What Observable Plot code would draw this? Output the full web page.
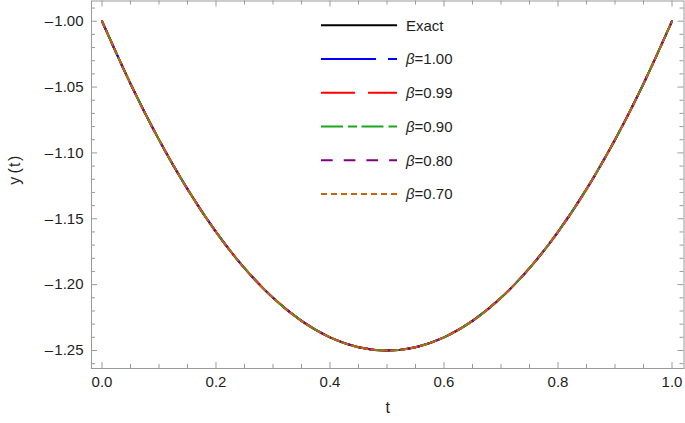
<!DOCTYPE html>
<html><head><meta charset="utf-8">
<script src="https://cdn.jsdelivr.net/npm/d3@7"></script>
<script src="https://cdn.jsdelivr.net/npm/@observablehq/plot@0.6"></script>
<style>
body{margin:0;background:#fff;font-family:"Liberation Sans",Arial,sans-serif}
#wrap{position:relative;width:685px;height:423px}
#legend{position:absolute;left:0;top:0;pointer-events:none}
</style>
</head><body><div id="wrap"></div>
<script>
// values
const tValues = [0, 0.05, 0.1, 0.15, 0.2, 0.25, 0.3, 0.35, 0.4, 0.45, 0.5, 0.55, 0.6, 0.65, 0.7, 0.75, 0.8, 0.85, 0.9, 0.95, 1.0];
const yExact = [-1.0000, -1.0475, -1.0900, -1.1275, -1.1600, -1.1875, -1.2100, -1.2275, -1.2400, -1.2475, -1.2500, -1.2475, -1.2400, -1.2275, -1.2100, -1.1875, -1.1600, -1.1275, -1.0900, -1.0475, -1.0000];
const yBeta100 = [-1.0000, -1.0475, -1.0900, -1.1275, -1.1600, -1.1875, -1.2100, -1.2275, -1.2400, -1.2475, -1.2500, -1.2475, -1.2400, -1.2275, -1.2100, -1.1875, -1.1600, -1.1275, -1.0900, -1.0475, -1.0000];
const yBeta099 = [-1.0000, -1.0475, -1.0900, -1.1275, -1.1600, -1.1875, -1.2100, -1.2275, -1.2400, -1.2475, -1.2500, -1.2475, -1.2400, -1.2275, -1.2100, -1.1875, -1.1600, -1.1275, -1.0900, -1.0475, -1.0000];
const yBeta090 = [-1.0000, -1.0475, -1.0900, -1.1275, -1.1600, -1.1875, -1.2100, -1.2275, -1.2400, -1.2475, -1.2500, -1.2475, -1.2400, -1.2275, -1.2100, -1.1875, -1.1600, -1.1275, -1.0900, -1.0475, -1.0000];
const yBeta080 = [-1.0000, -1.0475, -1.0900, -1.1275, -1.1600, -1.1875, -1.2100, -1.2275, -1.2400, -1.2475, -1.2500, -1.2475, -1.2400, -1.2275, -1.2100, -1.1875, -1.1600, -1.1275, -1.0900, -1.0475, -1.0000];
const yBeta070 = [-1.0000, -1.0475, -1.0900, -1.1275, -1.1600, -1.1875, -1.2100, -1.2275, -1.2400, -1.2475, -1.2500, -1.2475, -1.2400, -1.2275, -1.2100, -1.1875, -1.1600, -1.1275, -1.0900, -1.0475, -1.0000];
const seriesNames = ["Exact", "β=1.00", "β=0.99", "β=0.90", "β=0.80", "β=0.70"];
const xTickValues = [0, 0.2, 0.4, 0.6, 0.8, 1.0];
const xTickLabels = ["0.0", "0.2", "0.4", "0.6", "0.8", "1.0"];
const yTickValues = [-1.25, -1.20, -1.15, -1.10, -1.05, -1.00];
const yTickLabels = ["–\u200A1.25", "–\u200A1.20", "–\u200A1.15", "–\u200A1.10", "–\u200A1.05", "–\u200A1.00"];

const seriesY = [yExact, yBeta100, yBeta099, yBeta090, yBeta080, yBeta070];
const colors = ["#000000", "#0000ff", "#ff0000", "#1aa81a", "#800080", "#c0660f"];
const dashes = [null, "55,12", "34,13", "22,5,9,4.5", "11.7,11", "6,4"];

const W = 685, H = 423;
const mL = 91, mR = 1.5, mT = 0.5, mB = 55;
const innerW = W - mL - mR, innerH = H - mT - mB;
const frameColor = "#9a9a9a", textColor = "#1e1e1e";

const xMinor = d3.range(0, 21).map(i => +(i * 0.05).toFixed(2)).filter((d, i) => i % 4 !== 0);
const yMinor = d3.range(-126, -98).filter(i => i % 5 !== 0).map(i => i / 100);

const marks = [];
seriesY.forEach((ys, k) => {
  marks.push(Plot.line(tValues.map((t, i) => ({t, y: ys[i]})), {
    x: "t", y: "y", stroke: colors[k], strokeWidth: 2,
    strokeDasharray: dashes[k] || undefined, curve: "natural"
  }));
});
marks.push(
  Plot.frame({stroke: frameColor}),
  Plot.tickX(xTickValues, {x: d => d, stroke: frameColor, insetTop: innerH - 6}),
  Plot.tickX(xMinor, {x: d => d, stroke: frameColor, insetTop: innerH - 4}),
  Plot.tickX(xTickValues, {x: d => d, stroke: frameColor, insetBottom: innerH - 6}),
  Plot.tickX(xMinor, {x: d => d, stroke: frameColor, insetBottom: innerH - 4}),
  Plot.tickY(yTickValues, {y: d => d, stroke: frameColor, insetRight: innerW - 6}),
  Plot.tickY(yMinor, {y: d => d, stroke: frameColor, insetRight: innerW - 4}),
  Plot.tickY(yTickValues, {y: d => d, stroke: frameColor, insetLeft: innerW - 6}),
  Plot.tickY(yMinor, {y: d => d, stroke: frameColor, insetLeft: innerW - 4}),
  Plot.axisX(xTickValues, {tickSize: 0, tickPadding: 8, tickFormat: (d, i) => xTickLabels[i], fontSize: 15, fill: textColor, label: null}),
  Plot.axisY(yTickValues, {tickSize: 0, tickPadding: 8, tickFormat: (d, i) => yTickLabels[i], fontSize: 15, fill: textColor, label: null}),
  Plot.text(["t"], {frameAnchor: "bottom", dy: 44, text: d => d, fontSize: 16, fill: textColor}),
  Plot.text(["y\u2009(\u200At\u200A)"], {frameAnchor: "left", dx: -77, rotate: -90, text: d => d, fontSize: 16, fill: textColor})
);

const chart = Plot.plot({
  width: W, height: H,
  marginLeft: mL, marginRight: mR, marginTop: mT, marginBottom: mB,
  x: {domain: [-0.01842, 1.02105], axis: null},
  y: {domain: [-1.26367, -0.98466], axis: null},
  style: {fontFamily: "'Liberation Sans', Arial, sans-serif", background: "white", overflow: "visible"},
  marks
});
const wrap = document.getElementById("wrap");
wrap.appendChild(chart);

// legend overlay
const lg = d3.select(wrap).append("svg").attr("id", "legend").attr("width", W).attr("height", H);
const lx1 = 321, lx2 = 397, tx = 406, ly0 = 25.3, dy = 33.75;
seriesNames.forEach((name, k) => {
  const y = ly0 + k * dy;
  lg.append("line").attr("x1", lx1).attr("x2", lx2).attr("y1", y).attr("y2", y)
    .attr("stroke", colors[k]).attr("stroke-width", 2)
    .attr("stroke-dasharray", dashes[k]);
  const t = lg.append("text").attr("x", tx).attr("y", y).attr("dy", "0.36em")
    .attr("font-size", 15).attr("fill", textColor)
    .attr("font-family", "'Liberation Sans', Arial, sans-serif");
  if (name.startsWith("β")) {
    t.append("tspan").attr("font-style", "italic").text("β");
    t.append("tspan").text(name.slice(1));
  } else t.text(name);
});
</script>
</body></html>
